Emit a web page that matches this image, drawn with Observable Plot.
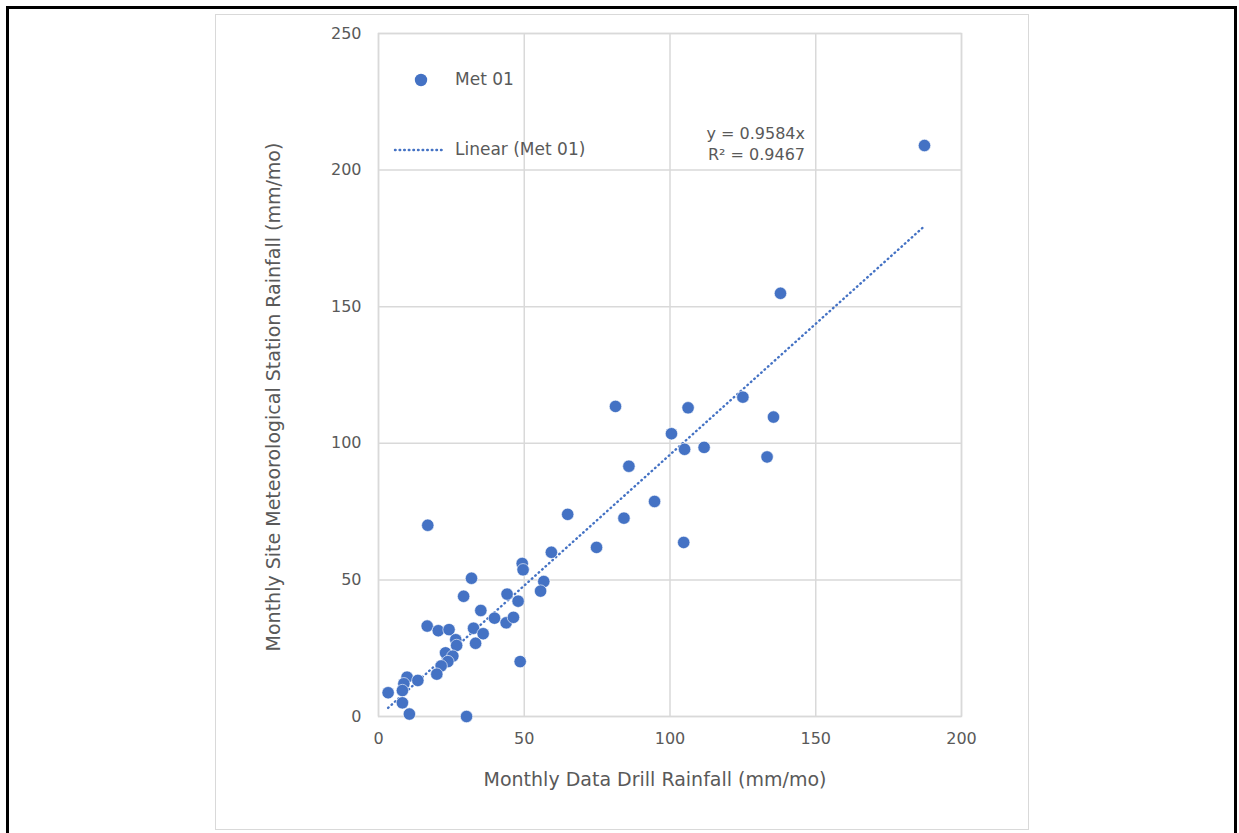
<!DOCTYPE html>
<html>
<head>
<meta charset="utf-8">
<script src="https://cdn.jsdelivr.net/npm/d3@7"></script>
<script src="https://cdn.jsdelivr.net/npm/@observablehq/plot@0.6"></script>
<style>
  html, body { margin: 0; padding: 0; background: #fff; overflow: hidden; }
  #wrap { position: relative; width: 1239px; height: 833px; font-family: "DejaVu Sans", sans-serif; color: #595959; }
  #wrap svg.plot { position: absolute; left: 0; top: 0; }
  .outer { position: absolute; left: 6px; top: 6px; width: 1225px; height: 840px; border: 3px solid #000; }
  .frame { position: absolute; left: 215px; top: 14px; width: 812px; height: 814px; border: 1.5px solid #d9d9d9; }
  .t { position: absolute; font-size: 16px; white-space: nowrap; color: #595959; }
</style>
</head>
<body>
<div id="wrap">
  <div class="outer"></div>
  <div class="frame"></div>
</div>
<script>
// Data: Monthly Data Drill Rainfall (x) vs Monthly Site Met Station Rainfall (y), mm/mo
const drill = [16.9, 31.9, 29.2, 35.1, 39.8, 43.8, 46.3, 44.1, 47.9, 49.3, 49.6, 59.3, 56.7, 55.6, 48.6,
  16.7, 20.5, 24.2, 32.6, 35.9, 33.3, 26.5, 26.8, 23.0, 25.5, 23.8, 21.5, 20.0, 9.8, 8.7, 8.2, 13.5,
  3.3, 8.2, 10.6, 30.2, 64.9, 100.5, 105.0, 111.7, 133.3, 85.9, 94.7, 84.2, 74.8, 104.7, 135.5, 137.9,
  125.0, 106.2, 81.3, 187.3];
const met = [70.0, 50.6, 44.0, 38.8, 36.0, 34.3, 36.3, 44.8, 42.2, 56.0, 53.7, 60.1, 49.4, 45.9, 20.1,
  33.1, 31.4, 31.8, 32.3, 30.3, 26.8, 28.1, 26.0, 23.3, 22.1, 20.1, 18.5, 15.5, 14.4, 12.0, 9.5, 13.2,
  8.7, 5.0, 0.9, 0.0, 74.0, 103.5, 97.8, 98.5, 95.0, 91.6, 78.7, 72.6, 61.9, 63.7, 109.6, 154.9,
  116.9, 113.0, 113.5, 209.0];
const slope = 0.9584;
const r2 = 0.9467;
const seriesName = "Met 01";
const xTicks = [0, 50, 100, 150, 200];
const yTicks = [0, 50, 100, 150, 200, 250];
const xTitle = "Monthly Data Drill Rainfall (mm/mo)";
const yTitle = "Monthly Site Meteorological Station Rainfall (mm/mo)";

const pts = drill.map((d, i) => ({x: d, y: met[i]}));
const ext = d3.extent(drill);
const trend = ext.map(x => ({x, y: slope * x}));
const blue = "#4472C4";
const grid = "#d9d9d9";

const chart = Plot.plot({
  width: 1239, height: 833,
  marginLeft: 378, marginRight: 278, marginTop: 33, marginBottom: 117,
  x: {domain: [0, 200], ticks: xTicks, label: null},
  y: {domain: [0, 250], ticks: yTicks, label: null},
  style: {fontFamily: "DejaVu Sans, sans-serif", fontSize: "16px", color: "#595959", background: "transparent"},
  marks: [
    Plot.gridX(xTicks, {stroke: grid, strokeOpacity: 1, strokeWidth: 1.5}),
    Plot.gridY(yTicks, {stroke: grid, strokeOpacity: 1, strokeWidth: 1.5}),
    Plot.frame({stroke: grid, strokeWidth: 1.5}),
    Plot.axisX(xTicks, {tickSize: 0, tickPadding: 16, label: null, fontSize: 16, fill: "#595959"}),
    Plot.axisY(yTicks, {tickSize: 0, tickPadding: 17, label: null, fontSize: 16, fill: "#595959"}),
    Plot.line(trend, {x: "x", y: "y", stroke: blue, strokeWidth: 2.4, strokeDasharray: "0.6,4", strokeLinecap: "round"}),
    Plot.dot(pts, {x: "x", y: "y", r: 6.2, fill: blue, stroke: "white", strokeWidth: 0.6})
  ]
});
chart.classList.add("plot");
const wrap = document.getElementById("wrap");
wrap.appendChild(chart);

function addText(txt, style) {
  const d = document.createElement("div");
  d.className = "t";
  d.textContent = txt;
  Object.assign(d.style, style);
  wrap.appendChild(d);
  return d;
}
// Legend
const legend = document.createElement("div");
legend.style.cssText = "position:absolute;left:0;top:0;";
legend.innerHTML = `<svg width="460" height="170" style="position:absolute;left:0;top:0;overflow:visible">
  <circle cx="421" cy="80" r="6.2" fill="${blue}"/>
  <line x1="395" y1="150" x2="444" y2="150" stroke="${blue}" stroke-width="2.4" stroke-dasharray="0.6,4" stroke-linecap="round"/>
</svg>`;
wrap.appendChild(legend);
addText(seriesName, {left: "455px", top: "69px", fontSize: "17px"});
addText(`Linear (${seriesName})`, {left: "455px", top: "139px", fontSize: "17px"});
// Equation
addText(`y = ${slope}x`, {right: (1239 - 805) + "px", top: "124px", textAlign: "right"});
addText(`R² = ${r2}`, {right: (1239 - 805) + "px", top: "145px", textAlign: "right"});
// Axis titles
addText(xTitle, {left: "655px", top: "768px", fontSize: "19px", transform: "translateX(-50%)"});
addText(yTitle, {left: "273px", top: "397px", fontSize: "19px", transform: "translate(-50%,-50%) rotate(-90deg)"});
</script>
</body>
</html>
